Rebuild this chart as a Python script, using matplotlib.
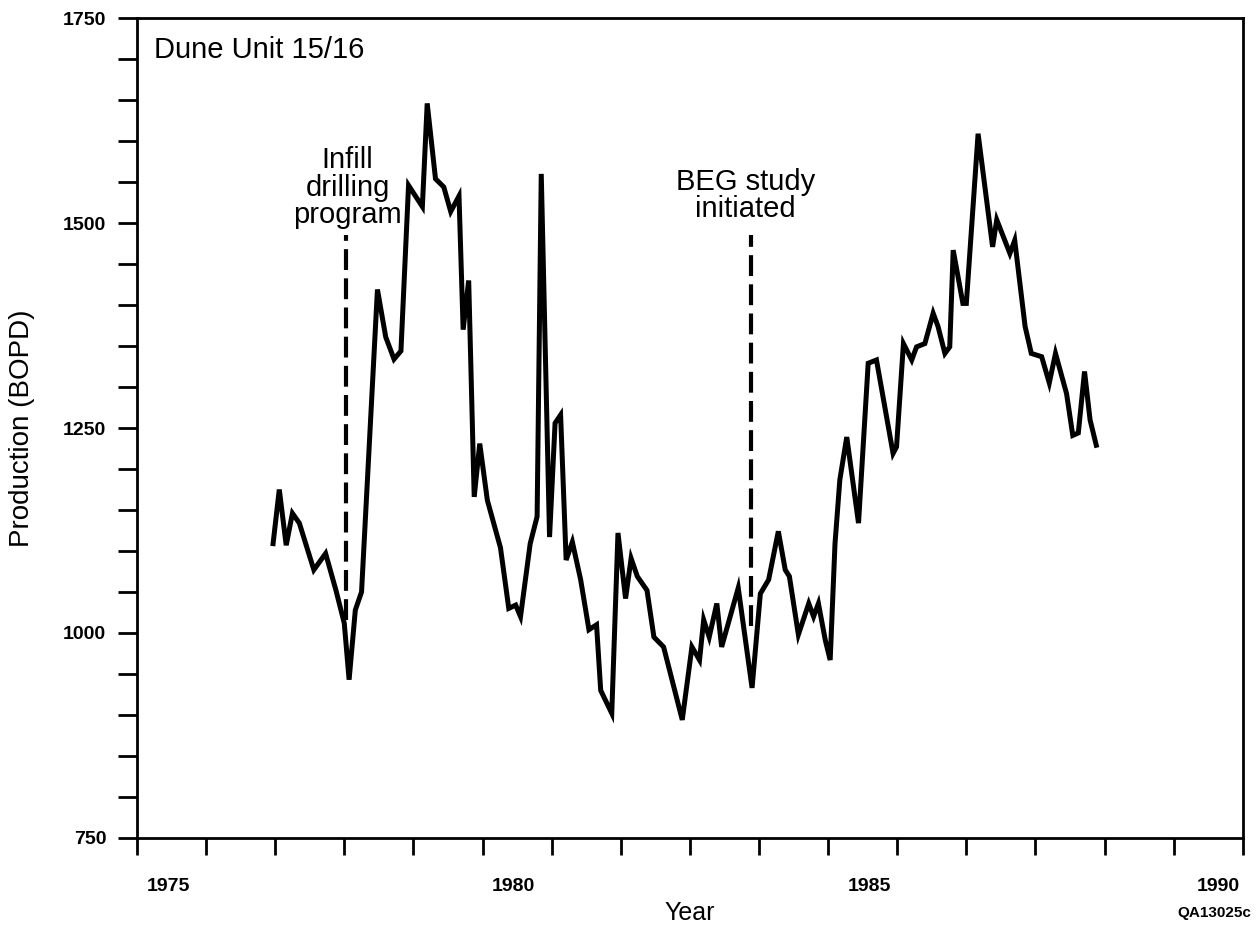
import matplotlib.pyplot as plt
from matplotlib.ticker import MultipleLocator, FixedLocator

plt.rcParams['font.family'] = ['Liberation Sans', 'DejaVu Sans']

# Monthly oil production, Dune Unit 15/16
YEARS = [1976.97, 1977.06, 1977.16, 1977.25, 1977.35, 1977.56, 1977.73, 1977.88,
         1978.00, 1978.07, 1978.16, 1978.25, 1978.48, 1978.60, 1978.72, 1978.82,
         1978.93, 1979.13, 1979.20, 1979.32, 1979.44, 1979.54, 1979.66, 1979.72,
         1979.80, 1979.88, 1979.96, 1980.07, 1980.26, 1980.38, 1980.48, 1980.55,
         1980.69, 1980.79, 1980.85, 1980.97, 1981.05, 1981.13, 1981.21, 1981.30,
         1981.42, 1981.54, 1981.65, 1981.71, 1981.87, 1981.96, 1982.07, 1982.15,
         1982.24, 1982.38, 1982.48, 1982.62, 1982.89, 1983.03, 1983.14, 1983.20,
         1983.28, 1983.39, 1983.46, 1983.70, 1983.90, 1984.02, 1984.14, 1984.28,
         1984.38, 1984.44, 1984.57, 1984.72, 1984.79, 1984.86, 1984.96, 1985.03,
         1985.10, 1985.17, 1985.27, 1985.44, 1985.58, 1985.70, 1985.94, 1985.99,
         1986.09, 1986.21, 1986.28, 1986.40, 1986.52, 1986.59, 1986.69, 1986.76,
         1986.81, 1986.95, 1987.00, 1987.17, 1987.38, 1987.44, 1987.63, 1987.70,
         1987.85, 1987.94, 1988.09, 1988.20, 1988.29, 1988.45, 1988.54, 1988.62,
         1988.71, 1988.79, 1988.88]
BOPD = [1109, 1175, 1107, 1146, 1134, 1077, 1097, 1052,
        1012, 943, 1028, 1050, 1419, 1361, 1334, 1344,
        1546, 1520, 1646, 1554, 1544, 1514, 1533, 1370,
        1430, 1166, 1231, 1162, 1104, 1030, 1034, 1020,
        1109, 1142, 1560, 1117, 1256, 1266, 1089, 1111,
        1065, 1004, 1010, 930, 902, 1122, 1042, 1091,
        1069, 1052, 995, 983, 894, 983, 967, 1016,
        995, 1036, 983, 1055, 933, 1048, 1065, 1124,
        1077, 1069, 998, 1036, 1020, 1036, 991, 967,
        1109, 1187, 1239, 1134, 1329, 1333, 1219, 1227,
        1353, 1333, 1349, 1353, 1390, 1374, 1341, 1349,
        1467, 1402, 1402, 1609, 1471, 1504, 1463, 1479,
        1374, 1341, 1337, 1305, 1341, 1292, 1241, 1244,
        1319, 1260, 1229]

# event markers: year, top, bottom, label
EVENT_YEARS = [1978.02, 1983.89]
EVENT_TOP = [1485, 1485]
EVENT_BOTTOM = [1016, 1008]
EVENT_LABELS = ['Infill\ndrilling\nprogram', 'BEG study\ninitiated']
EVENT_LABEL_POS = [(1978.05, 1543), (1983.80, 1534)]

YEAR_LABELS = ['1975', '1980', '1985', '1990']
YEAR_LABEL_AT = [1975.45, 1980.45, 1985.6, 1990.65]

fig = plt.figure(figsize=(12.56, 9.30), dpi=100)
ax = fig.add_axes([0.109, 0.099, 0.8805, 0.8815])

ax.plot(YEARS, BOPD, color='black', lw=3.6, solid_joinstyle='miter')

for x, top, bot in zip(EVENT_YEARS, EVENT_TOP, EVENT_BOTTOM):
    ax.plot([x, x], [bot, top], color='black', lw=3, linestyle=(0, (5, 2)))

for (x, y), txt in zip(EVENT_LABEL_POS, EVENT_LABELS):
    ax.text(x, y, txt, ha='center', va='center', fontsize=21,
            linespacing=0.97)

ax.text(1975.25, 1711, 'Dune Unit 15/16', ha='left', va='center', fontsize=21)

ax.set_xlim(1975, 1991)
ax.set_ylim(750, 1750)

# yearly tick marks; the year labels sit inside the labelled year
ax.xaxis.set_minor_locator(MultipleLocator(1))
ax.xaxis.set_major_locator(FixedLocator(YEAR_LABEL_AT))
ax.set_xticklabels(YEAR_LABELS)
ax.tick_params(axis='x', which='major', length=0, pad=29)
ax.tick_params(axis='x', which='minor', direction='out', length=12, width=2)

ax.yaxis.set_major_locator(MultipleLocator(250))
ax.yaxis.set_minor_locator(MultipleLocator(50))
ax.tick_params(axis='y', which='both', direction='out', length=14, width=2)
ax.tick_params(axis='y', which='major', pad=8)

for lab in ax.get_xticklabels() + ax.get_yticklabels():
    lab.set_fontsize(14)
    lab.set_fontweight('bold')

for sp in ax.spines.values():
    sp.set_linewidth(2)

ax.set_xlabel('Year', fontsize=18, va='center')
ax.xaxis.set_label_coords(0.5, -0.092)
ax.set_ylabel('Production (BOPD)', fontsize=20, va='center')
ax.yaxis.set_label_coords(-0.104, 0.5)

fig.text(0.996, 0.018, 'QA13025c', ha='right', va='center',
         fontsize=11, fontweight='bold')

fig.savefig('out.png', dpi=100)
